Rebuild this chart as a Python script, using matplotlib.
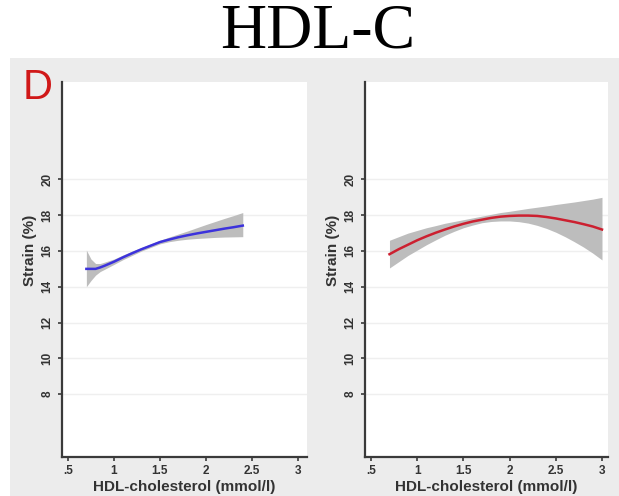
import matplotlib
matplotlib.use("Agg")
import matplotlib.pyplot as plt
from matplotlib.patches import Rectangle

# HDL-cholesterol (mmol/l) vs strain (%), fitted curve with confidence band
hdl_left = [0.7, 0.75, 0.8, 0.85, 0.9, 1.0, 1.1, 1.2, 1.3, 1.4, 1.5, 1.6, 1.7,
            1.8, 1.9, 2.0, 2.1, 2.2, 2.3, 2.4]
fit_left = [15.0, 15.0, 15.0, 15.08, 15.18, 15.4, 15.65, 15.88, 16.1, 16.3, 16.5,
            16.64, 16.77, 16.88, 16.98, 17.07, 17.16, 17.25, 17.33, 17.42]
upper_left = [16.05, 15.55, 15.3, 15.3, 15.38, 15.55, 15.78, 16.0, 16.2, 16.4, 16.6,
              16.78, 16.95, 17.12, 17.3, 17.48, 17.65, 17.82, 17.98, 18.15]
lower_left = [14.0, 14.35, 14.65, 14.85, 14.98, 15.25, 15.52, 15.76, 16.0, 16.2, 16.4,
              16.52, 16.6, 16.66, 16.7, 16.73, 16.76, 16.78, 16.79, 16.8]

hdl_right = [0.7, 0.8, 0.9, 1.0, 1.1, 1.2, 1.3, 1.4, 1.5, 1.6, 1.7, 1.8, 1.9, 2.0,
             2.1, 2.2, 2.3, 2.4, 2.5, 2.6, 2.7, 2.8, 2.9, 3.0]
fit_right = [15.82, 16.1, 16.35, 16.6, 16.82, 17.02, 17.2, 17.37, 17.52, 17.65, 17.75,
             17.85, 17.92, 17.96, 17.98, 17.98, 17.96, 17.9, 17.82, 17.72, 17.62,
             17.5, 17.37, 17.2]
upper_right = [16.6, 16.8, 17.0, 17.15, 17.3, 17.42, 17.55, 17.65, 17.75, 17.85, 17.95,
               18.05, 18.15, 18.22, 18.3, 18.38, 18.45, 18.52, 18.6, 18.67, 18.74,
               18.82, 18.9, 19.0]
lower_right = [15.05, 15.4, 15.75, 16.05, 16.35, 16.62, 16.88, 17.1, 17.3, 17.45, 17.58,
               17.65, 17.68, 17.68, 17.64, 17.56, 17.43, 17.26, 17.05, 16.8, 16.52,
               16.22, 15.88, 15.5]

x_ticks = [0.5, 1, 1.5, 2, 2.5, 3]
x_tick_labels = [".5", "1", "1.5", "2", "2.5", "3"]
y_ticks = [8, 10, 12, 14, 16, 18, 20]

W, H = 619, 496
fig = plt.figure(figsize=(W / 100, H / 100), dpi=100)
fig.patch.set_facecolor("white")

# grey panel behind both plots
fig.patches.append(Rectangle((10 / W, 0), 1 - 10 / W, 1 - 58 / H,
                             transform=fig.transFigure, facecolor="#ececec",
                             edgecolor="none", zorder=-10))

fig.text(318 / W, 1 - 33 / H, "HDL-C", ha="center", va="center",
         fontsize=46, family="Liberation Serif", color="black")
fig.text(23 / W, 1 - 88 / H, "D", ha="left", va="center",
         fontsize=30, family="Liberation Sans", color="#d01818")

sans = "Liberation Sans"
txt = "#333333"


def panel(rect, xs, fit, lo, hi, color, xlim):
    ax = fig.add_axes(rect)
    ax.set_zorder(1)
    ax.set_facecolor("white")
    ax.fill_between(xs, lo, hi, color="#bdbdbd", linewidth=0, zorder=2)
    ax.plot(xs, fit, color=color, linewidth=1.8, zorder=3)
    ax.set_xlim(*xlim)
    ax.set_ylim(4.48, 25.45)
    ax.set_yticks(y_ticks)
    ax.set_xticks(x_ticks)
    ax.set_xticklabels(x_tick_labels)
    for t in y_ticks:
        ax.axhline(t, color="#efefef", linewidth=1.0, zorder=1)
    for s in ("top", "right"):
        ax.spines[s].set_visible(False)
    for s in ("left", "bottom"):
        ax.spines[s].set_color("#3a3a3a")
        ax.spines[s].set_linewidth(1.6)
    ax.tick_params(direction="out", length=3, width=1.2, color="#3a3a3a",
                   labelsize=8.5, labelcolor=txt, pad=3)
    for lab in ax.get_yticklabels():
        lab.set_rotation(90)
        lab.set_va("center")
        lab.set_family(sans)
        lab.set_fontweight("bold")
    for lab in ax.get_xticklabels():
        lab.set_family(sans)
        lab.set_fontweight("bold")
    ax.set_xlabel("HDL-cholesterol (mmol/l)", fontsize=11, family=sans,
                  fontweight="bold", color=txt, labelpad=2)
    ax.set_ylabel("Strain (%)", fontsize=11, family=sans, fontweight="bold",
                  color=txt)
    ax.yaxis.set_label_coords(-25 / (rect[2] * W), 0.55)
    return ax


ax1 = panel([62 / W, 1 - 457 / H, (307 - 62) / W, (457 - 82) / H],
            hdl_left, fit_left, lower_left, upper_left, "#3c32dc",
            (0.435, 3.098))
ax2 = panel([365 / W, 1 - 457 / H, (608 - 365) / W, (457 - 82) / H],
            hdl_right, fit_right, lower_right, upper_right, "#cc2030",
            (0.435, 3.065))

fig.savefig("out.png", dpi=100, facecolor="white")
